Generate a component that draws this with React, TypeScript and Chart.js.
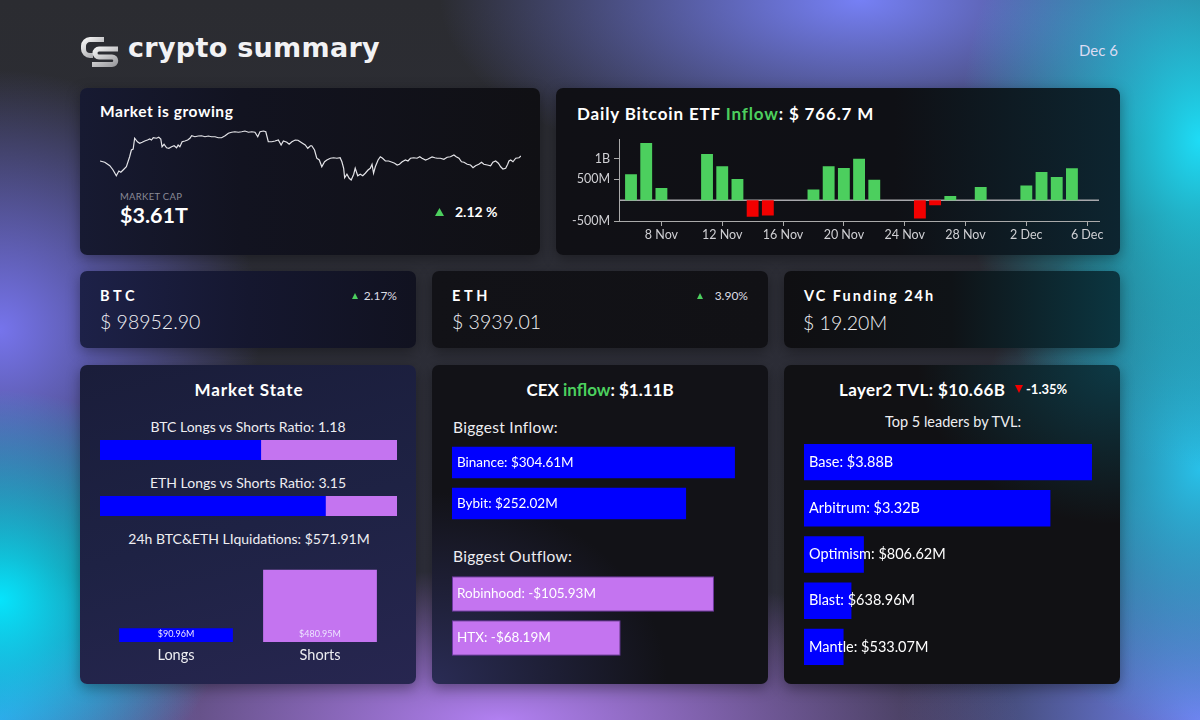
import React, { useEffect, useRef } from 'react';
import { Chart, registerables } from 'chart.js';
Chart.register(...registerables);

const FONT = 'Lato, "Noto Sans", sans-serif';
Chart.defaults.font.family = FONT;

// ---------- DATA ----------
// Market cap sparkline (hours since start, market cap in $T)
const sparkHours = [0,1.9,3.9,5.2,6.5,7.5,8.3,9.2,10.5,11.8,12.5,13.2,13.8,14.9,15.8,16.8,17.8,18.9,19.8,20.5,21.2,22.5,23.4,24.2,24.7,25.5,26.5,27.4,28.5,29.5,30.5,31.1,31.8,32.7,33.8,34.9,35.8,36.5,37.8,39.1,40.4,41.8,43.1,44.4,45.8,47.1,48.4,49.8,51.1,52.4,53.7,55.1,56.4,57.7,59.1,60.4,61.7,62.8,63.7,65.1,66.0,67.0,68.4,69.7,71.0,72.1,73.0,74.4,75.3,76.4,77.7,78.8,79.7,80.6,81.7,82.7,83.8,
  84.3,85.4,86.3,87.3,88.3,89.4,90.3,91.7,93.0,94.3,95.6,96.3,97.0,97.4,98.3,99.2,100.0,101.0,101.6,102.6,103.6,104.6,105.6,106.7,107.6,108.3,108.9,109.6,110.7,111.6,112.5,113.6,114.9,116.3,117.3,118.3,119.2,120.3,121.6,122.6,123.6,124.9,126.2,127.3,128.2,129.6,130.6,132.2,133.3,134.2,135.5,136.9,138.2,139.5,140.9,141.8,142.9,143.9,144.9,146.2,147.5,148.5,149.5,150.8,151.9,152.8,154.2,155.5,156.4,157.5,158.6,159.5,160.4,161.5,162.3,162.8,163.5,164.4,165.5,166.8,167.6];
const sparkValues = [3.590,3.585,3.571,3.554,3.531,3.550,3.545,3.554,3.567,3.607,
  3.634,3.638,3.681,3.667,3.661,3.665,3.670,3.674,3.678,3.674,
  3.683,3.681,3.685,3.678,3.647,3.657,3.643,3.641,3.647,3.651,
  3.643,3.654,3.647,3.667,3.670,3.674,3.681,3.691,3.687,3.690,
  3.691,3.687,3.690,3.687,3.687,3.683,3.683,3.691,3.701,3.705,
  3.707,3.705,3.707,3.710,3.705,3.707,3.705,3.687,3.707,3.710,
  3.707,3.667,3.667,3.670,3.674,3.654,3.670,3.665,3.657,3.667,
  3.674,3.673,3.667,3.661,3.654,3.641,3.651,
  3.651,3.634,3.601,3.594,3.567,3.587,3.594,3.601,3.603,3.601,
  3.603,3.587,3.561,3.523,3.537,3.521,3.514,3.537,3.561,3.531,
  3.537,3.531,3.541,3.554,3.561,3.577,3.541,3.567,3.594,3.607,
  3.601,3.590,3.590,3.585,3.581,3.574,3.577,3.587,3.594,3.590,
  3.601,3.603,3.601,3.607,3.601,3.594,3.598,3.606,3.603,3.601,
  3.601,3.597,3.605,3.607,3.614,3.607,3.601,3.587,3.585,3.577,
  3.574,3.563,3.571,3.577,3.585,3.577,3.574,3.571,3.585,3.590,
  3.581,3.567,3.558,3.561,3.577,3.590,3.594,3.587,3.601,3.603,3.610];

// Daily Bitcoin ETF flows ($M)
const etfDates = ['2024-11-06','2024-11-07','2024-11-08','2024-11-11','2024-11-12','2024-11-13','2024-11-14','2024-11-15','2024-11-18','2024-11-19','2024-11-20','2024-11-21','2024-11-22','2024-11-25','2024-11-26','2024-11-27','2024-11-29','2024-12-02','2024-12-03','2024-12-04','2024-12-05'];
const etfValues = [621.9,1376,293.7,1110,817.5,510.1,-400.7,-370.7,255.8,816.4,773.4,1000,490.3,-438.4,-122.8,103.9,320,353.6,676.2,556.8,766.7];
const etfTickDates = ['2024-11-08','2024-11-12','2024-11-16','2024-11-20','2024-11-24','2024-11-28','2024-12-02','2024-12-06'];
const etfTickLabels = ['8 Nov','12 Nov','16 Nov','20 Nov','24 Nov','28 Nov','2 Dec','6 Dec'];
const etfYTicks = [-500, 500, 1000];
const etfYTickLabels = ['-500M','500M','1B'];

// Market state
const btcRatio = 1.18;
const ethRatio = 3.15;
const liqLabels = ['Longs', 'Shorts'];
const liqValues = [90.96, 480.95];

// CEX flows ($M)
const cexInNames = ['Binance', 'Bybit'];
const cexInValues = [304.61, 252.02];
const cexOutNames = ['Robinhood', 'HTX'];
const cexOutValues = [-105.93, -68.19];

// Layer2 TVL ($M)
const l2Names = ['Base', 'Arbitrum', 'Optimism', 'Blast', 'Mantle'];
const l2Values = [3880, 3320, 806.62, 638.96, 533.07];

// ---------- STYLE ----------
const GREEN = '#4ccf5e';
const RED = '#f20000';
const BLUE = '#0000ff';
const PURPLE = '#c474f0';

const dayIdx = (d: string) => (Date.parse(d) - Date.parse(etfDates[0])) / 86400000;
const fmtM = (v: number) => (Math.abs(v) >= 1000 ? `$${(Math.abs(v) / 1000).toFixed(2)}B` : `$${Math.abs(v).toFixed(2)}M`);

const baseOpts = {
  responsive: false,
  animation: false as const,
  events: [] as any[],
  layout: { padding: 0 },
  plugins: { legend: { display: false }, tooltip: { enabled: false } },
};

function ChartBox({ x, y, w, h, make }: { x: number; y: number; w: number; h: number; make: () => any }) {
  const ref = useRef<HTMLCanvasElement>(null);
  useEffect(() => {
    const c = new Chart(ref.current as HTMLCanvasElement, make());
    return () => c.destroy();
  }, []);
  return <canvas ref={ref} width={w} height={h} style={{ position: 'absolute', left: x, top: y, width: w, height: h }} />;
}

function Txt({ x, y, size, weight = 400, color = '#fff', align = 'left', spacing = 0, family = FONT, children }: any) {
  const tx = align === 'center' ? '-50%' : align === 'right' ? '-100%' : '0';
  return (
    <div style={{ position: 'absolute', left: x, top: y, transform: `translate(${tx},-50%)`, fontSize: size, fontWeight: weight, color, whiteSpace: 'nowrap', lineHeight: 1, letterSpacing: spacing, fontFamily: family }}>
      {children}
    </div>
  );
}

function Tri({ x, y, w, h, color, down = false }: any) {
  return (
    <svg style={{ position: 'absolute', left: x, top: y }} width={w} height={h}>
      <polygon points={down ? `0,0 ${w},0 ${w / 2},${h}` : `0,${h} ${w},${h} ${w / 2},0`} fill={color} />
    </svg>
  );
}

function Panel({ x, y, w, h, bg }: any) {
  return <div style={{ position: 'absolute', left: x, top: y, width: w, height: h, borderRadius: 7, background: bg, boxShadow: '0 4px 14px rgba(0,0,0,0.35)' }} />;
}

// ---------- CHART CONFIGS ----------
function sparkConfig() {
  return {
    type: 'line',
    data: { datasets: [{ data: sparkHours.map((t, i) => ({ x: t, y: sparkValues[i] })), borderColor: '#e4e4e8', borderWidth: 1.2, pointRadius: 0, tension: 0 }] },
    options: { ...baseOpts, scales: { x: { type: 'linear', display: false, min: 0, max: 167.6 }, y: { display: false, min: 3.49, max: 3.73 } } },
  };
}

const zeroLine = {
  id: 'zeroLine',
  beforeDatasetsDraw(chart: any) {
    const { ctx, chartArea, scales } = chart;
    const py = scales.y.getPixelForValue(0);
    ctx.save();
    ctx.strokeStyle = '#a8a8ac';
    ctx.lineWidth = 1.5;
    ctx.beginPath();
    ctx.moveTo(chartArea.left, py);
    ctx.lineTo(chartArea.right, py);
    ctx.stroke();
    ctx.restore();
  },
};

function etfConfig() {
  return {
    type: 'bar',
    data: {
      datasets: [{
        data: etfDates.map((d, i) => ({ x: dayIdx(d), y: etfValues[i] })),
        backgroundColor: etfValues.map((v) => (v >= 0 ? GREEN : RED)),
        barPercentage: 0.78,
        categoryPercentage: 1,
      }],
    },
    options: {
      ...baseOpts,
      layout: { padding: { top: 7, right: 11, left: 0, bottom: 0 } },
      scales: {
        x: {
          type: 'linear', min: -0.79, max: 30.78, offset: false,
          afterBuildTicks: (s: any) => { s.ticks = etfTickDates.map((d) => ({ value: dayIdx(d) })); },
          ticks: { color: '#d0d0d4', font: { size: 12.5 }, padding: 1, maxRotation: 0, autoSkip: false, callback: (_v: any, i: number) => etfTickLabels[i] },
          grid: { display: true, drawOnChartArea: false, drawTicks: true, tickLength: 5, color: '#aaa', offset: false },
          border: { display: true, color: '#aaa', width: 1 },
          afterFit: (s: any) => { s.height = 29; },
        },
        y: {
          min: -500, max: 1460,
          afterBuildTicks: (s: any) => { s.ticks = etfYTicks.map((v) => ({ value: v })); },
          ticks: { color: '#d0d0d4', font: { size: 12.5 }, padding: 4, callback: (_v: any, i: number) => etfYTickLabels[i] },
          grid: { display: true, drawOnChartArea: false, drawTicks: true, tickLength: 5, color: '#aaa' },
          border: { display: true, color: '#aaa', width: 1 },
          afterFit: (s: any) => { s.width = 54; },
        },
      },
    },
    plugins: [zeroLine],
  };
}

function ratioConfig(ratio: number) {
  const longShare = ratio / (1 + ratio);
  return {
    type: 'bar',
    data: {
      labels: ['r'],
      datasets: [
        { data: [longShare], backgroundColor: BLUE, barPercentage: 1, categoryPercentage: 1 },
        { data: [1 - longShare], backgroundColor: PURPLE, barPercentage: 1, categoryPercentage: 1 },
      ],
    },
    options: { ...baseOpts, indexAxis: 'y', scales: { x: { display: false, stacked: true, min: 0, max: 1 }, y: { display: false, stacked: true } } },
  };
}

const liqValueLabels = {
  id: 'liqValueLabels',
  afterDatasetsDraw(chart: any) {
    const { ctx } = chart;
    const meta = chart.getDatasetMeta(0);
    ctx.save();
    ctx.font = `9px ${FONT}`;
    ctx.fillStyle = '#ece4ff';
    ctx.textAlign = 'center';
    ctx.textBaseline = 'middle';
    meta.data.forEach((el: any, i: number) => ctx.fillText(fmtM(liqValues[i]), el.x, el.base - 8));
    ctx.restore();
  },
};

function liqConfig() {
  return {
    type: 'bar',
    data: { labels: liqLabels, datasets: [{ data: liqValues, backgroundColor: [BLUE, PURPLE], barPercentage: 0.79, categoryPercentage: 1 }] },
    options: {
      ...baseOpts,
      scales: {
        x: { grid: { display: false, drawTicks: false }, border: { display: false }, ticks: { color: '#eeeef2', font: { size: 14.5 }, padding: 5 }, afterFit: (s: any) => { s.height = 28; } },
        y: { display: false, min: 0, max: 545 },
      },
    },
    plugins: [liqValueLabels],
  };
}

function innerLabels(texts: string[], size: number) {
  return {
    id: 'innerLabels',
    afterDatasetsDraw(chart: any) {
      const { ctx, chartArea } = chart;
      const meta = chart.getDatasetMeta(0);
      ctx.save();
      ctx.font = `${size}px ${FONT}`;
      ctx.fillStyle = '#ffffff';
      ctx.textBaseline = 'middle';
      meta.data.forEach((el: any, i: number) => ctx.fillText(texts[i], chartArea.left + 5, el.y));
      ctx.restore();
    },
  };
}

function hbarConfig(values: number[], max: number, color: string, barPct: number, texts: string[], size: number, border = false) {
  return {
    type: 'bar',
    data: {
      labels: texts,
      datasets: [{
        data: values.map((v) => Math.abs(v)),
        backgroundColor: color,
        borderColor: border ? 'rgba(120,60,175,0.9)' : color,
        borderWidth: border ? 1 : 0,
        borderSkipped: false,
        barPercentage: barPct,
        categoryPercentage: 1,
      }],
    },
    options: { ...baseOpts, indexAxis: 'y', scales: { x: { display: false, min: 0, max }, y: { display: false } } },
    plugins: [innerLabels(texts, size)],
  };
}

const BG = [
  'radial-gradient(ellipse 230px 210px at 0px 600px, rgba(6,228,252,1), rgba(6,228,252,0))',
  'radial-gradient(ellipse 260px 260px at 0px 330px, rgba(118,116,236,1), rgba(118,116,236,0))',
  'radial-gradient(ellipse 240px 330px at 1200px 140px, rgba(30,220,246,1), rgba(30,220,246,0))',
  'radial-gradient(ellipse 230px 260px at 1200px 470px, rgba(40,200,242,0.95), rgba(40,200,242,0))',
  'radial-gradient(ellipse 420px 190px at 860px 0px, rgba(118,128,245,1), rgba(118,128,245,0))',
  'radial-gradient(ellipse 520px 150px at 500px 720px, rgba(178,128,242,1), rgba(178,128,242,0))',
  'radial-gradient(ellipse 300px 240px at 1200px 720px, rgba(112,130,240,1), rgba(112,130,240,0))',
  'radial-gradient(ellipse 200px 160px at 0px 720px, rgba(70,130,220,1), rgba(70,130,220,0))',
  'linear-gradient(180deg, #2b2c31 0%, #30313f 100%)',
].join(',');

const PBG = {
  market: 'linear-gradient(90deg, #171a32 0%, #121320 35%, #101014 100%)',
  etf: 'linear-gradient(90deg, #101015 0%, #0f1015 60%, #0d2530 100%)',
  btc: 'linear-gradient(90deg, #1d2148 0%, #15172f 50%, #111220 100%)',
  eth: 'linear-gradient(90deg, #121217 0%, #111115 100%)',
  vc: 'linear-gradient(90deg, #0f0f12 0%, #0f1317 50%, #0b3641 100%)',
  state: 'linear-gradient(165deg, #1a1d3a 0%, #1e2244 50%, #272650 100%)',
  cex: 'radial-gradient(ellipse 70% 60% at 0% 100%, #2a2c55 0%, rgba(18,18,23,0) 100%), #121217',
  l2: 'radial-gradient(ellipse 60% 50% at 100% 0%, #0d3a46 0%, rgba(17,17,20,0) 100%), #111114',
};

export default function App() {
  return (
    <div style={{ position: 'fixed', left: 0, top: 0, width: 1200, height: 720, overflow: 'hidden', background: BG, fontFamily: FONT }}>
      {/* Header */}
      <svg style={{ position: 'absolute', left: 80, top: 35 }} width={40} height={33} viewBox="0 0 40 33">
        <defs>
          <linearGradient id="lg" x1="0" y1="0" x2="1" y2="1">
            <stop offset="0" stopColor="#f4f4f4" />
            <stop offset="1" stopColor="#9a9a9e" />
          </linearGradient>
        </defs>
        <path d="M24 4.5 H10 A6.5 6.5 0 0 0 3.5 11 V14 A6.5 6.5 0 0 0 10 20.5 H13" stroke="url(#lg)" strokeWidth={5} fill="none" />
        <path d="M38 14 H19 A4 4 0 0 0 19 22 H32 A3.75 3.75 0 0 1 32 29.5 H12" stroke="url(#lg)" strokeWidth={5} fill="none" />
      </svg>
      <Txt x={128} y={47} size={27} weight={700} color="#f2f2f4" spacing={0.3} family='"DejaVu Sans", sans-serif'>crypto summary</Txt>
      <Txt x={1118} y={50} size={15} color="#dcdcf2" align="right">Dec 6</Txt>

      {/* Panels */}
      <Panel x={80} y={88} w={460} h={167} bg={PBG.market} />
      <Panel x={556} y={88} w={564} h={167} bg={PBG.etf} />
      <Panel x={80} y={271} w={336} h={77} bg={PBG.btc} />
      <Panel x={432} y={271} w={336} h={77} bg={PBG.eth} />
      <Panel x={784} y={271} w={336} h={77} bg={PBG.vc} />
      <Panel x={80} y={365} w={336} h={319} bg={PBG.state} />
      <Panel x={432} y={365} w={336} h={319} bg={PBG.cex} />
      <Panel x={784} y={365} w={336} h={319} bg={PBG.l2} />

      {/* Market is growing */}
      <Txt x={100} y={112} size={15.5} weight={700} spacing={0.55}>Market is growing</Txt>
      <ChartBox x={100} y={126} w={421} h={60} make={sparkConfig} />
      <Txt x={120} y={197} size={9.5} color="#8a8a96" spacing={0.3}>MARKET CAP</Txt>
      <Txt x={120} y={216} size={21.5} weight={700}>$3.61T</Txt>
      <Tri x={435} y={208} w={9} h={8} color={GREEN} />
      <Txt x={455} y={212} size={14} weight={700}>2.12 %</Txt>

      {/* ETF */}
      <Txt x={577} y={113} size={17} weight={700} spacing={0.85}>Daily Bitcoin ETF <span style={{ color: GREEN }}>Inflow</span>: $ 766.7 M</Txt>
      <ChartBox x={565} y={128} w={545} h={122} make={etfConfig} />

      {/* Row 2 */}
      <Txt x={100} y={296} size={14.5} weight={700} spacing={3.6}>BTC</Txt>
      <Tri x={352} y={293} w={6} h={6} color={GREEN} />
      <Txt x={397} y={296} size={12} color="#dddde4" align="right">2.17%</Txt>
      <Txt x={100} y={322} size={19.5} weight={300} color="#f0f0f4">$ 98952.90</Txt>

      <Txt x={452} y={296} size={14.5} weight={700} spacing={3.6}>ETH</Txt>
      <Tri x={697} y={293} w={6} h={6} color={GREEN} />
      <Txt x={748} y={296} size={12} color="#dddde4" align="right">3.90%</Txt>
      <Txt x={452} y={322} size={19.5} weight={300} color="#f0f0f4">$ 3939.01</Txt>

      <Txt x={804} y={296} size={14.5} weight={700} spacing={2}>VC Funding 24h</Txt>
      <Txt x={803} y={323} size={19.5} weight={300} color="#f0f0f4">$ 19.20M</Txt>

      {/* Market State */}
      <Txt x={249} y={389} size={17} weight={700} align="center" spacing={0.9}>Market State</Txt>
      <Txt x={248} y={427} size={14} align="center" color="#eeeef2">BTC Longs vs Shorts Ratio: {btcRatio}</Txt>
      <ChartBox x={100} y={440} w={297} h={20} make={() => ratioConfig(btcRatio)} />
      <Txt x={248} y={483} size={14} align="center" color="#eeeef2">ETH Longs vs Shorts Ratio: {ethRatio}</Txt>
      <ChartBox x={100} y={496} w={297} h={20} make={() => ratioConfig(ethRatio)} />
      <Txt x={249} y={539} size={14} align="center" color="#eeeef2">24h BTC&amp;ETH LIquidations: $571.91M</Txt>
      <ChartBox x={104} y={560} w={288} h={110} make={liqConfig} />

      {/* CEX */}
      <Txt x={600} y={389} size={17} weight={700} align="center">CEX <span style={{ color: GREEN }}>inflow</span>: $1.11B</Txt>
      <Txt x={453} y={428} size={15.5} color="#eeeef2" spacing={0.3}>Biggest Inflow:</Txt>
      <ChartBox x={452} y={442} w={300} h={82} make={() => hbarConfig(cexInValues, 323, BLUE, 0.77, cexInNames.map((n, i) => `${n}: ${fmtM(cexInValues[i])}`), 13.5)} />
      <Txt x={453} y={557} size={15.5} color="#eeeef2" spacing={0.3}>Biggest Outflow:</Txt>
      <ChartBox x={452} y={572} w={300} h={88} make={() => hbarConfig(cexOutValues, 121.3, PURPLE, 0.807, cexOutNames.map((n, i) => `${n}: -${fmtM(cexOutValues[i])}`), 13.5, true)} />

      {/* Layer2 */}
      <Txt x={839} y={389} size={17} weight={700} spacing={0.4}>Layer2 TVL: $10.66B</Txt>
      <Tri x={1015} y={385} w={8} h={8} color={RED} down />
      <Txt x={1026} y={389} size={13} weight={700}>-1.35%</Txt>
      <Txt x={953} y={422} size={14.5} align="center" color="#eeeef2">Top 5 leaders by TVL:</Txt>
      <ChartBox x={804} y={439} w={300} h={231} make={() => hbarConfig(l2Values, 4042, BLUE, 0.788, l2Names.map((n, i) => `${n}: ${fmtM(l2Values[i])}`), 14.5)} />
    </div>
  );
}
